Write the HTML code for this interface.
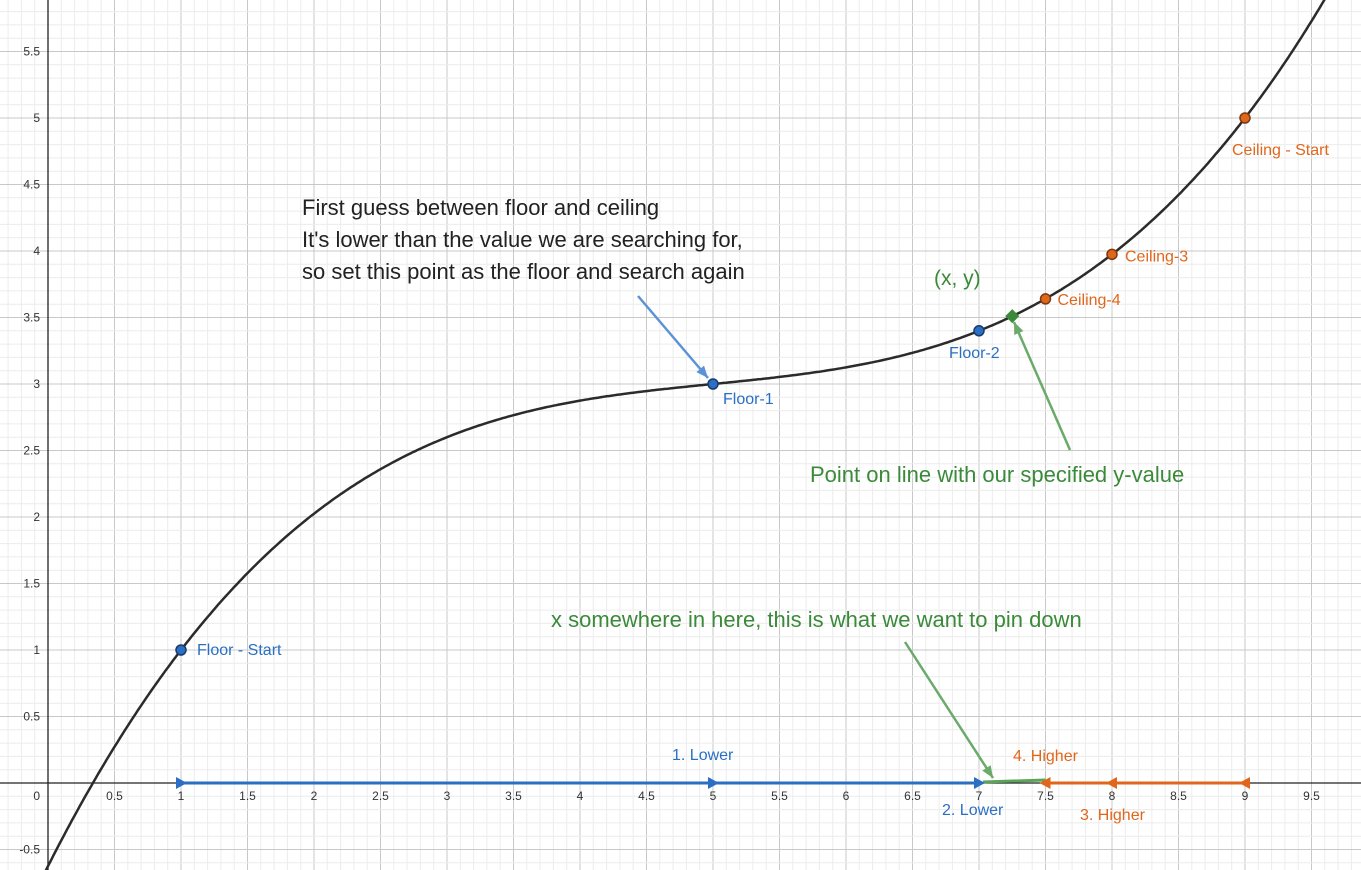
<!DOCTYPE html>
<html><head><meta charset="utf-8"><style>
body{margin:0;background:#fff;font-family:"Liberation Sans",sans-serif}
svg{display:block}
</style></head><body>
<svg id="c" width="1361" height="870" font-family="Liberation Sans, sans-serif"></svg>
<script>
const xTicks=[0.5,1,1.5,2,2.5,3,3.5,4,4.5,5,5.5,6,6.5,7,7.5,8,8.5,9,9.5];
const yTicks=[-0.5,0.5,1,1.5,2,2.5,3,3.5,4,4.5,5,5.5];
const floorX=[1,5,7];
const floorY=[1,3,3.4];
const floorLabels=["Floor - Start","Floor-1","Floor-2"];
const ceilX=[9,8,7.5];
const ceilY=[5,3.975,3.64];
const ceilLabels=["Ceiling - Start","Ceiling-3","Ceiling-4"];
const target=[7.25,3.51];
const X=v=>48+v*133, Y=v=>783-v*133;
const f=x=>3+0.1*(x-5)+0.025*Math.pow(x-5,3);
const svg=document.getElementById('c');
const NS="http://www.w3.org/2000/svg";
function el(t,a,p){const e=document.createElementNS(NS,t);for(const k in a)e.setAttribute(k,a[k]);(p||svg).appendChild(e);return e;}
for(let i=-5;i<=100;i++){const x=X(i/10);if(x<0||x>1361)continue;
const l=el('line',{x1:x,x2:x,y1:0,y2:870,stroke:i%5==0?'#c8c8c8':'#ececec','stroke-width':1});
}
for(let i=-7;i<=60;i++){const y=Y(i/10);if(y<0||y>870)continue;
const l=el('line',{x1:0,x2:1361,y1:y,y2:y,stroke:i%5==0?'#c8c8c8':'#ececec','stroke-width':1});
}
let a=el('line',{x1:0,x2:1361,y1:Y(0),y2:Y(0),stroke:'#222','stroke-width':1.3});

a=el('line',{x1:X(0),x2:X(0),y1:0,y2:870,stroke:'#222','stroke-width':1.3});

xTicks.forEach(v=>{const t=el('text',{x:X(v),y:Y(0)+17,'font-size':12,'text-anchor':'middle',fill:'#333'});t.textContent=v;
});
yTicks.forEach(v=>{const t=el('text',{x:X(0)-8,y:Y(v)+4,'font-size':12,'text-anchor':'end',fill:'#333'});t.textContent=v;
});
let z=el('text',{x:X(0)-8,y:Y(0)+17,'font-size':12,'text-anchor':'end',fill:'#333'});z.textContent='0';

let d='';for(let x=-0.1;x<=10.3;x+=0.02){d+=(d?'L':'M')+X(x).toFixed(1)+','+Y(f(x)).toFixed(1);}
const cv=el('path',{d,fill:'none',stroke:'#2b2b2b','stroke-width':2.5});

const BLUE='#2a6fc4',OR='#e0661b',GR='#3a8a3a';
let s=el('line',{x1:X(1),x2:X(7),y1:Y(0),y2:Y(0),stroke:BLUE,'stroke-width':3});

s=el('line',{x1:X(7.5),x2:X(9),y1:Y(0),y2:Y(0),stroke:OR,'stroke-width':3});

s=el('line',{x1:X(7.03),x2:X(7.5),y1:Y(0)-1,y2:Y(0)-3,stroke:'#5aa55a','stroke-width':3});

floorX.forEach(v=>{const x=X(v),y=Y(0);const p=el('polygon',{points:`${x-5},${y-6} ${x+6},${y} ${x-5},${y+6}`,fill:BLUE});
});
ceilX.forEach(v=>{const x=X(v),y=Y(0);const p=el('polygon',{points:`${x+5},${y-6} ${x-6},${y} ${x+5},${y+6}`,fill:OR});
});
function txt(x,y,s,c,sz,name){const t=el('text',{x,y,'font-size':sz,fill:c});t.textContent=s;return t;}
txt(672,760,'1. Lower',BLUE,16,'label-1-lower');
txt(942,815,'2. Lower',BLUE,16,'label-2-lower');
txt(1080,820,'3. Higher',OR,16,'label-3-higher');
txt(1013,761,'4. Higher',OR,16,'label-4-higher');
const fo=[[16,5],[10,20],[-30,27]];
floorX.forEach((v,i)=>{const c=el('circle',{cx:X(v),cy:Y(floorY[i]),r:5,fill:BLUE,stroke:'#1a3a6a','stroke-width':1.5});

txt(X(v)+fo[i][0],Y(floorY[i])+fo[i][1],floorLabels[i],BLUE,16,'floor-label');});
const co=[[-13,37],[13,7],[12,6]];
ceilX.forEach((v,i)=>{const c=el('circle',{cx:X(v),cy:Y(ceilY[i]),r:5,fill:OR,stroke:'#7a3a10','stroke-width':1.5});

txt(X(v)+co[i][0],Y(ceilY[i])+co[i][1],ceilLabels[i],OR,16,'ceiling-label');});
const tx=X(target[0]),ty=Y(target[1]);
const dm=el('polygon',{points:`${tx},${ty-7} ${tx+7},${ty} ${tx},${ty+7} ${tx-7},${ty}`,fill:GR});

txt(934,285,'(x, y)',GR,21,'target-coord-label');
txt(302,215,'First guess between floor and ceiling','#222',22,'annotation-line-1');
txt(302,247,"It's lower than the value we are searching for,",'#222',22,'annotation-line-2');
txt(302,279,'so set this point as the floor and search again','#222',22,'annotation-line-3');
txt(810,482,'Point on line with our specified y-value',GR,22,'target-annotation');
txt(551,627,'x somewhere in here, this is what we want to pin down',GR,22,'range-annotation');
function arrow(x1,y1,x2,y2,c,name){const g=el('g',{});
el('line',{x1,y1,x2,y2,stroke:c,'stroke-width':2.5},g);const an=Math.atan2(y2-y1,x2-x1),L=12,W=5;
const bx=x2-L*Math.cos(an),by=y2-L*Math.sin(an);
el('polygon',{points:`${x2},${y2} ${bx-W*Math.sin(an)},${by+W*Math.cos(an)} ${bx+W*Math.sin(an)},${by-W*Math.cos(an)}`,fill:c},g);}
arrow(638,296,708,378,'#5b93d6','annotation-arrow-floor1');
arrow(1070,450,1014,322,'#6aaa6a','annotation-arrow-target');
arrow(905,642,993,778,'#6aaa6a','annotation-arrow-range');
</script>
</body></html>
